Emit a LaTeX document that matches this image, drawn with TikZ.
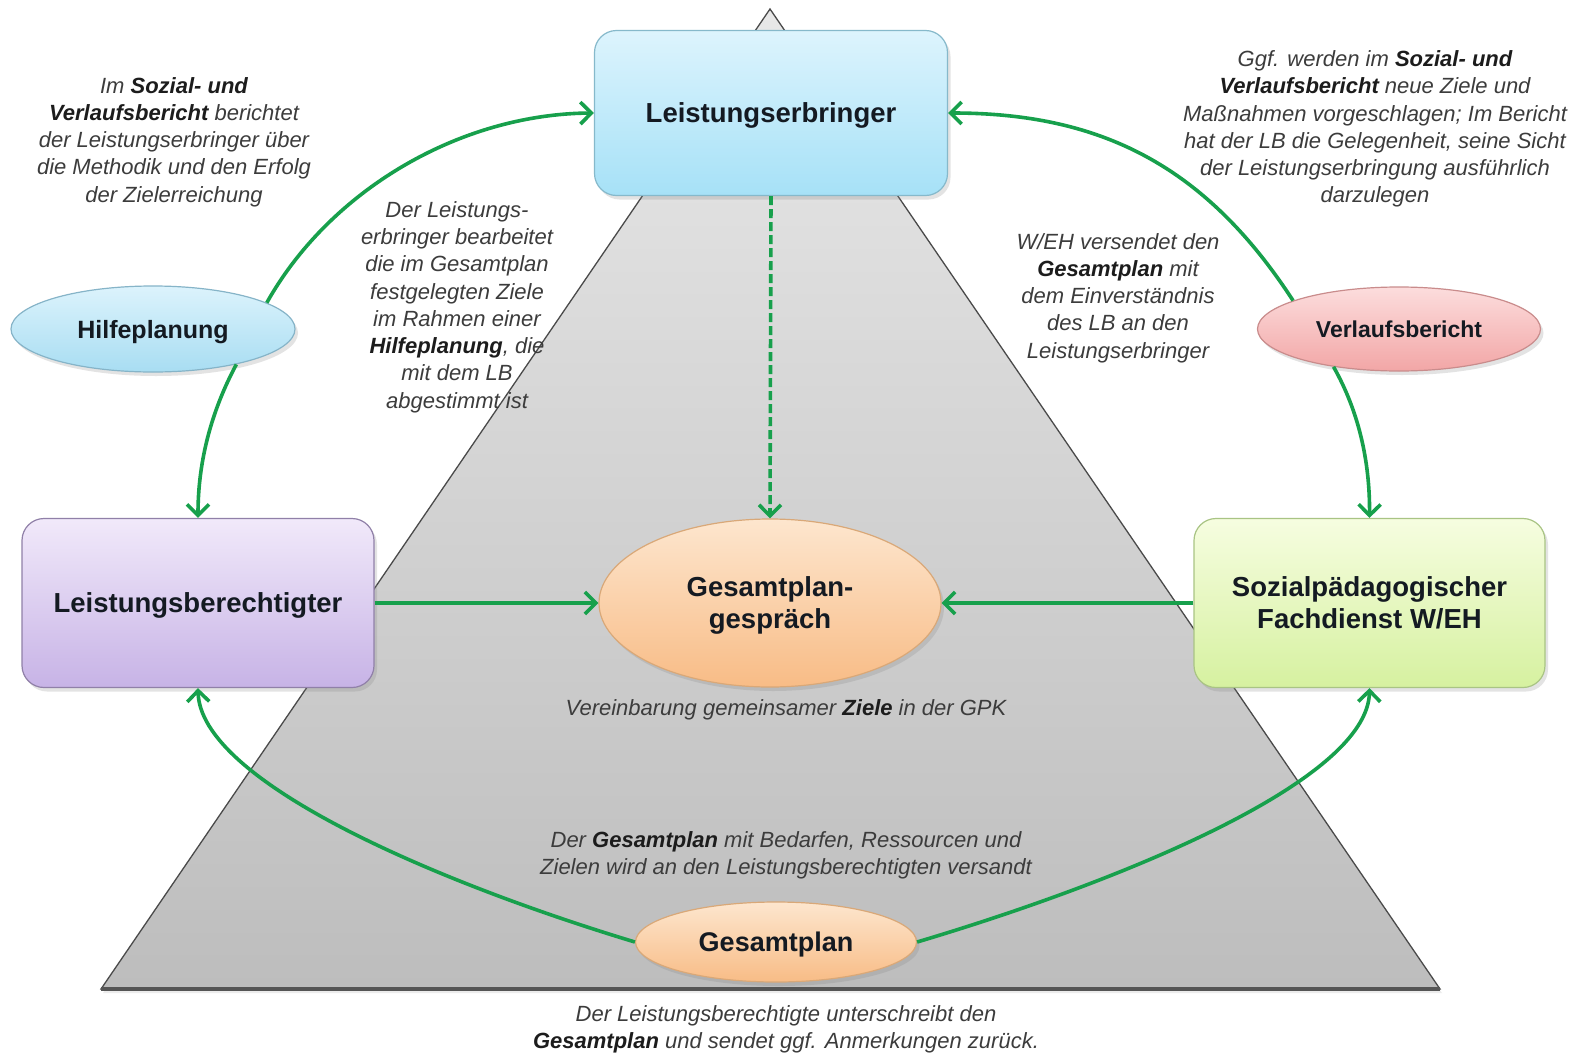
\documentclass[tikz,border=0pt]{standalone}
\usepackage{fontspec}
\setmainfont{Liberation Sans}
\usetikzlibrary{shapes.geometric,arrows.meta,shadows}

\definecolor{grn}{HTML}{17A04C}
\definecolor{trtop}{HTML}{E8E8E8}
\definecolor{trbot}{HTML}{BDBDBD}
\definecolor{trline}{HTML}{4A4A4A}
\definecolor{trbase}{HTML}{555555}
\definecolor{letop}{HTML}{DDF4FD}
\definecolor{lebot}{HTML}{A6E1F7}
\definecolor{ledraw}{HTML}{86B9CB}
\definecolor{lbtop}{HTML}{F1E9FA}
\definecolor{lbbot}{HTML}{C7B3E6}
\definecolor{lbdraw}{HTML}{9080A8}
\definecolor{sptop}{HTML}{F6FDE0}
\definecolor{spbot}{HTML}{D6F1A0}
\definecolor{spdraw}{HTML}{A9C484}
\definecolor{ortop}{HTML}{FDE6CE}
\definecolor{orbot}{HTML}{F8BC86}
\definecolor{ordraw}{HTML}{D9A878}
\definecolor{hptop}{HTML}{DCF3FC}
\definecolor{hpbot}{HTML}{A8DDF2}
\definecolor{hpdraw}{HTML}{86B4C8}
\definecolor{vbtop}{HTML}{FCDDDD}
\definecolor{vbbot}{HTML}{F2A6A6}
\definecolor{vbdraw}{HTML}{C98C8C}
\definecolor{lbl}{HTML}{141A22}
\definecolor{notec}{HTML}{3C3C3C}
\definecolor{noteb}{HTML}{1C1C1C}

\newcommand{\bfx}[1]{{\bfseries\color{noteb}#1}}

\begin{document}
\begin{tikzpicture}[x=1pt,y=-1pt,
  boxnode/.style={rectangle, rounded corners=22pt, inner sep=0pt, line width=1.2pt,
    font=\fontsize{27.5}{32}\selectfont\bfseries, text=lbl, align=center,
    drop shadow={shadow xshift=3pt,shadow yshift=-4pt,opacity=0.22}},
  ellnode/.style={ellipse, inner sep=0pt, line width=1.2pt, text=lbl, align=center,
    drop shadow={shadow xshift=3pt,shadow yshift=-4pt,opacity=0.22}},
  note/.style={font=\fontsize{22}{27.3}\selectfont\itshape, text=notec, align=center, inner sep=0pt},
  conn/.style={draw=grn, line width=3.6pt, -{Straight Barb[length=11pt,width=22pt]}}
]
\useasboundingbox (0,0) rectangle (1587,1060);
\fill[white] (0,0) rectangle (1587,1060);

% pyramid
\coordinate (apex) at (770,9);
\coordinate (bl) at (101,989);
\coordinate (br) at (1440,989);
\path[top color=trtop, bottom color=trbot, draw=trline, line width=1.3pt,
  drop shadow={shadow xshift=2pt,shadow yshift=-4pt,opacity=0.15}]
  (apex) -- (br) -- (bl) -- cycle;
\draw[trbase, line width=3.5pt] (bl) -- (br);

% main nodes
\node[boxnode, top color=letop, bottom color=lebot, draw=ledraw, text depth=0pt,
  minimum width=353pt, minimum height=165pt] (le) at (771,113) {Leistungserbringer};
\node[boxnode, top color=lbtop, bottom color=lbbot, draw=lbdraw, text depth=0pt,
  minimum width=352pt, minimum height=169pt] (lb) at (198,603) {Leistungsberechtigter};
\node[boxnode, top color=sptop, bottom color=spbot, draw=spdraw,
  minimum width=351pt, minimum height=169pt] (sp) at (1369.5,603) {Sozialpädagogischer\\Fachdienst W/EH};
\node[ellnode, top color=ortop, bottom color=orbot, draw=ordraw, text depth=0pt,
  minimum width=342pt, minimum height=168pt,
  font=\fontsize{27.5}{32}\selectfont\bfseries] (gpg) at (770,603) {Gesamtplan-\\gespräch};
\node[ellnode, top color=hptop, bottom color=hpbot, draw=hpdraw, text depth=0pt,
  minimum width=284pt, minimum height=86pt,
  font=\fontsize{25}{30}\selectfont\bfseries] (hp) at (153,329) {Hilfeplanung};
\node[ellnode, top color=vbtop, bottom color=vbbot, draw=vbdraw,
  minimum width=283pt, minimum height=84pt,
  font=\fontsize{23}{28}\selectfont\bfseries] (vb) at (1399,329) {Verlaufsbericht};
\node[ellnode, top color=ortop, bottom color=orbot, draw=ordraw, text depth=0pt,
  minimum width=281pt, minimum height=80pt,
  font=\fontsize{27}{32}\selectfont\bfseries] (gp) at (776,942) {Gesamtplan};

% connectors
\draw[conn] (hp.13) .. controls (330,190) and (460,114) .. (le.west);
\draw[conn] (hp.-23) .. controls (212,410) and (198,460) .. (lb.north);
\draw[conn] (gp.west) .. controls (430,880) and (200,780) .. (lb.south);
\draw[conn] (gp.east) .. controls (1125,880) and (1368,780) .. (sp.south);
\draw[conn] (vb.165) .. controls (1205,165) and (1100,113) .. (le.east);
\draw[conn] (vb.210) .. controls (1358,410) and (1370,460) .. (sp.north);
\draw[conn] (lb.east) -- (gpg.west);
\draw[conn] (sp.west) -- (gpg.east);
\draw[conn, dash pattern=on 9pt off 4pt] (le.south) -- (gpg.north);

% notes
\node[note] (n1) at (174,142) {Im \bfx{Sozial- und}\\\bfx{Verlaufsbericht} berichtet\\der Leistungserbringer über\\die Methodik und den Erfolg\\der Zielerreichung};
\node[note] (n2) at (457,307) {Der Leistungs-\\erbringer bearbeitet\\die im Gesamtplan\\festgelegten Ziele\\im Rahmen einer\\\bfx{Hilfeplanung}, die\\mit dem LB\\abgestimmt ist};
\node[note] (n3) at (1375,129) {Ggf. werden im \bfx{Sozial- und}\\\bfx{Verlaufsbericht} neue Ziele und\\Maßnahmen vorgeschlagen; Im Bericht\\hat der LB die Gelegenheit, seine Sicht\\der Leistungserbringung ausführlich\\darzulegen};
\node[note] (n4) at (1118,298) {W/EH versendet den\\\bfx{Gesamtplan} mit\\dem Einverständnis\\des LB an den\\Leistungserbringer};
\node[note] (n5) at (786,710) {Vereinbarung gemeinsamer \bfx{Ziele} in der GPK};
\node[note] (n6) at (786,855) {Der \bfx{Gesamtplan} mit Bedarfen, Ressourcen und\\Zielen wird an den Leistungsberechtigten versandt};
\node[note] (n7) at (786,1029) {Der Leistungsberechtigte unterschreibt den\\\bfx{Gesamtplan} und sendet ggf. Anmerkungen zurück.};
\end{tikzpicture}
\end{document}
